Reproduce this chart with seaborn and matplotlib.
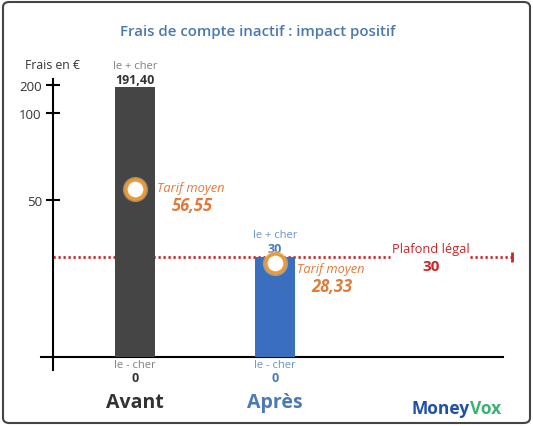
import numpy as np
import matplotlib
matplotlib.use("Agg")
import matplotlib.pyplot as plt
import seaborn as sns
from matplotlib.patches import FancyBboxPatch

# ===== Data =====
categories = ["Avant", "Après"]
max_fee = [191.40, 30]
min_fee = [0, 0]
mean_fee = [56.55, 28.33]
max_labels = ["191,40", "30"]
min_labels = ["0", "0"]
mean_labels = ["56,55", "28,33"]
legal_cap = 30
cap_label = "30"
y_ticks = [50, 100, 200]

# broken (piecewise) y scale, as in the original graphic
scale_vals = [-10, 0, 30, 50, 100, 200, 400]
scale_pos = [-33.3, 0, 100, 157, 244, 272, 328]

def fwd(v):
    return np.interp(v, scale_vals, scale_pos)

def inv(p):
    return np.interp(p, scale_pos, scale_vals)

sns.set_style("white")
plt.rcParams['font.family'] = ['Open Sans', 'DejaVu Sans']

W, H = 533, 427
fig = plt.figure(figsize=(W / 100, H / 100), dpi=100)
ax = fig.add_axes([41 / W, 1 - 375 / H, 462 / W, 315 / H])

bar_colors = ["#454545", "#3a6fbf"]
text_colors = ["#333333", "#4a7ab5"]
light_colors = ["#808080", "#6f95c4"]
red = "#c62828"
orange = "#e07b39"

sns.barplot(x=categories, y=max_fee, hue=categories, palette=bar_colors,
            width=0.28, legend=False, ax=ax, zorder=3, saturation=1,
            linewidth=0)

ax.set_yscale('function', functions=(fwd, inv))
ax.set_xlim(-0.671, 2.629)
ax.set_ylim(inv(-17), inv(298))

# axes lines
for s in ["top", "right"]:
    ax.spines[s].set_visible(False)
ax.spines["bottom"].set_position(("data", 0))
ax.spines["left"].set_position(("data", -0.586))
ax.spines["left"].set_bounds(inv(-13), inv(278))
for s in ["bottom", "left"]:
    ax.spines[s].set_color("black")
    ax.spines[s].set_linewidth(1.5)
ax.set_yticks(y_ticks)
ax.set_yticklabels([str(t) for t in y_ticks])
ax.tick_params(axis="y", left=True, direction="inout", length=10, width=1.5,
               labelsize=9.5, pad=3, colors="black")
ax.tick_params(axis="y", labelcolor="#333333")
ax.tick_params(axis="x", bottom=False, length=0, labelbottom=False)
ax.set_xlabel("")
ax.set_ylabel("")

# legal cap line (dotted, with gap for its label)
ax.plot([-0.586, 1.821], [legal_cap, legal_cap], color=red, lw=2,
        ls=(0, (0.8, 1)), zorder=2)
ax.plot([2.393, 2.69], [legal_cap, legal_cap], color=red, lw=2,
        ls=(0, (0.8, 1)), zorder=2, clip_on=False)
ax.plot([2.69], [legal_cap], marker="|", ms=7, mew=2, color=red, clip_on=False)
ax.annotate("Plafond légal", (2.114, legal_cap), xytext=(0, 8),
            textcoords="offset pixels", ha="center", va="center",
            fontsize=9.3, color=red)
ax.annotate(cap_label, (2.114, legal_cap), xytext=(0, -9),
            textcoords="offset pixels", ha="center", va="center",
            fontsize=11, color=red, fontweight="bold")

# mean markers
ax.scatter(range(len(categories)), mean_fee, s=330, color="#f6c98a",
           alpha=0.5, zorder=4, linewidths=0)
ax.scatter(range(len(categories)), mean_fee, s=190, color="white",
           edgecolors="#eb9a3a", linewidths=2.5, zorder=5)

mean_dy = [1, -6]  # keep the second label clear of the cap line
for i, cat in enumerate(categories):
    # max
    ax.annotate("le + cher", (i, max_fee[i]), xytext=(0, 22),
                textcoords="offset pixels", ha="center", va="center",
                fontsize=8, color=light_colors[i], annotation_clip=False)
    ax.annotate(max_labels[i], (i, max_fee[i]), xytext=(0, 8),
                textcoords="offset pixels", ha="center", va="center",
                fontsize=9, color=text_colors[i], fontweight="bold",
                annotation_clip=False)
    # min
    ax.annotate("le - cher", (i, min_fee[i]), xytext=(0, -8),
                textcoords="offset pixels", ha="center", va="center",
                fontsize=8, color=light_colors[i], annotation_clip=False)
    ax.annotate(min_labels[i], (i, min_fee[i]), xytext=(0, -21),
                textcoords="offset pixels", ha="center", va="center",
                fontsize=9, color=text_colors[i], fontweight="bold",
                annotation_clip=False)
    # category
    ax.annotate(cat, (i, 0), xytext=(0, -45), textcoords="offset pixels",
                ha="center", va="center", fontsize=14, color=text_colors[i],
                fontweight="bold", annotation_clip=False)
    # mean
    ax.annotate("Tarif moyen", (i, mean_fee[i]), xytext=(22, mean_dy[i]),
                textcoords="offset pixels", ha="left", va="center",
                fontsize=9.3, color=orange, style="italic")
    ax.annotate(mean_labels[i], (i, mean_fee[i]), xytext=(57, mean_dy[i] - 17),
                textcoords="offset pixels", ha="center", va="center",
                fontsize=12, color=orange, style="italic", fontweight="bold")

# titles and decorations
fig.text(258 / W, 1 - 32 / H, "Frais de compte inactif : impact positif",
         ha="center", va="center", fontsize=10.8, color="#4a78b0",
         fontweight="semibold")
fig.text(52 / W, 1 - 66 / H, "Frais en €", ha="center", va="center",
         fontsize=8.8, color="#333333")
fig.text(470 / W, 1 - 409 / H, "Money", ha="right", va="center",
         fontsize=12.5, color="#1f4fa8", fontweight="bold")
fig.text(470 / W, 1 - 409 / H, "Vox", ha="left", va="center",
         fontsize=12.5, color="#3bb273", fontweight="bold")

fig.patches.append(FancyBboxPatch((3 / W, 3 / H), 527 / W, 421 / H,
                                  boxstyle="round,pad=0,rounding_size=0.012",
                                  transform=fig.transFigure, fc="none",
                                  ec="#444444", lw=1.5))

fig.savefig("out.png", dpi=100)
